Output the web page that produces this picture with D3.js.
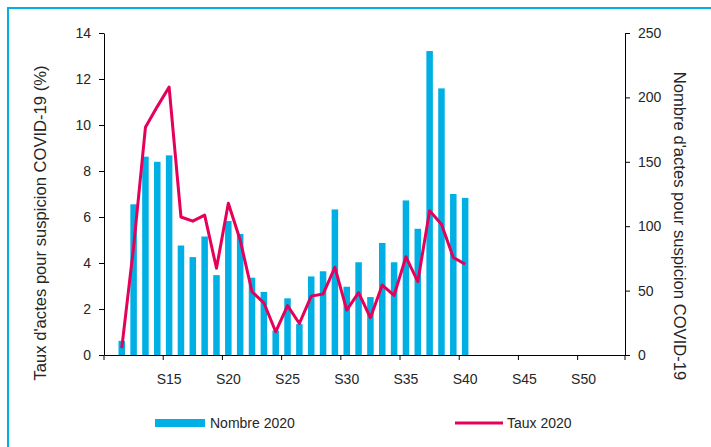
<!DOCTYPE html>
<html><head><meta charset="utf-8">
<script src="https://cdn.jsdelivr.net/npm/d3@7"></script>
<style>
html,body{margin:0;padding:0;background:#fff;}
text{font-family:"Liberation Sans",Arial,sans-serif;fill:#262626;}
</style></head>
<body>
<svg id="chart" width="711" height="447"></svg>
<script>
// Categories: weeks S10..S53
const weeks = d3.range(10, 54).map(d => "S" + d);
// Data weeks (S11..S40)
const dataWeeks = d3.range(11, 41).map(d => "S" + d);
// Nombre d'actes (right axis)
const nombre2020 = [11,117,154,150,155,85,76,92,62,104,94,60,49,19,44,24,61,65,113,53,72,45,87,72,120,98,236,207,125,122];
// Taux d'actes (%) (left axis)
const taux2020 = [0.3,4.7,9.9,10.8,11.65,6.0,5.82,6.08,3.77,6.6,5.0,2.75,2.27,1.01,2.15,1.37,2.56,2.65,3.81,1.95,2.71,1.62,3.04,2.59,4.27,3.19,6.27,5.69,4.24,3.95];
const xTickLabels = ["S15","S20","S25","S30","S35","S40","S45","S50"];
const leftTicks = [0,2,4,6,8,10,12,14];
const rightTicks = [0,50,100,150,200,250];

const svg = d3.select("#chart");
const W = 711, H = 447;
const pLeft = 104, pRight = 625, pTop = 33, pBottom = 355;
const cyan = "#00b0e4", red = "#e5005a";

svg.append("rect").attr("width", W).attr("height", H).attr("fill", "#fff");
svg.append("rect").attr("x", 8).attr("y", 8).attr("width", 760).attr("height", 500)
  .attr("fill", "none").attr("stroke", cyan).attr("stroke-width", 2);

const x = d3.scaleBand().domain(weeks).range([pLeft, pRight]).paddingInner(0.45).paddingOuter(0.225);
const yL = d3.scaleLinear().domain([0, 14]).range([pBottom, pTop]);
const yR = d3.scaleLinear().domain([0, 250]).range([pBottom, pTop]);

// bars
svg.append("g").selectAll("rect").data(dataWeeks).join("rect")
  .attr("x", d => x(d))
  .attr("width", x.bandwidth())
  .attr("y", (d, i) => yR(nombre2020[i]))
  .attr("height", (d, i) => yR(0) - yR(nombre2020[i]))
  .attr("fill", cyan);

// line
const line = d3.line().x(d => x(d.w) + x.bandwidth() / 2).y(d => yL(d.v));
svg.append("path").datum(dataWeeks.map((w, i) => ({w, v: taux2020[i]})))
  .attr("d", line).attr("fill", "none").attr("stroke", red)
  .attr("stroke-width", 3).attr("stroke-linejoin", "round");

// left axis
const gL = svg.append("g").attr("transform", `translate(${pLeft},0)`)
  .call(d3.axisLeft(yL).tickValues(leftTicks).tickSize(5).tickPadding(8).tickSizeOuter(0));
// right axis
const gR = svg.append("g").attr("transform", `translate(${pRight},0)`)
  .call(d3.axisRight(yR).tickValues(rightTicks).tickSize(5).tickPadding(8).tickSizeOuter(0));
// bottom axis (labels at category centres, tick marks at category boundaries)
const gB = svg.append("g").attr("transform", `translate(0,${pBottom})`)
  .call(d3.axisBottom(x).tickValues(xTickLabels).tickSize(0).tickPadding(19).tickSizeOuter(0));
const step = x.step();
const boundaries = xTickLabels.map(w => x(w) - (step - x.bandwidth()) / 2).concat([pLeft, pRight]);
gB.selectAll("line.bt").data(boundaries).join("line").attr("class", "bt")
  .attr("x1", d => d).attr("x2", d => d).attr("y1", 0).attr("y2", 5)
  .attr("stroke", "#000");

[gL, gR, gB].forEach(g => {
  g.selectAll(".domain").attr("stroke", "#000").attr("stroke-width", 1);
  g.selectAll(".tick line").attr("stroke", "#000");
  g.selectAll("text").attr("font-size", 14).attr("font-family", "Liberation Sans, Arial, sans-serif").attr("fill", "#262626");
});

// axis titles
svg.append("text").attr("transform", "translate(46,223) rotate(-90)")
  .attr("text-anchor", "middle").attr("font-size", 16.6)
  .text("Taux d'actes pour suspicion COVID-19 (%)");
svg.append("text").attr("transform", "translate(674,226) rotate(90)")
  .attr("text-anchor", "middle").attr("font-size", 16.6)
  .text("Nombre d'actes pour suspicion COVID-19");

// legend
const lg = svg.append("g");
lg.append("rect").attr("x", 155).attr("y", 419).attr("width", 50).attr("height", 8).attr("fill", cyan);
lg.append("text").attr("x", 210).attr("y", 428).attr("font-size", 14).text("Nombre 2020");
lg.append("line").attr("x1", 455).attr("x2", 503).attr("y1", 423).attr("y2", 423)
  .attr("stroke", red).attr("stroke-width", 3);
lg.append("text").attr("x", 507).attr("y", 428).attr("font-size", 14).text("Taux 2020");
</script>
</body></html>
